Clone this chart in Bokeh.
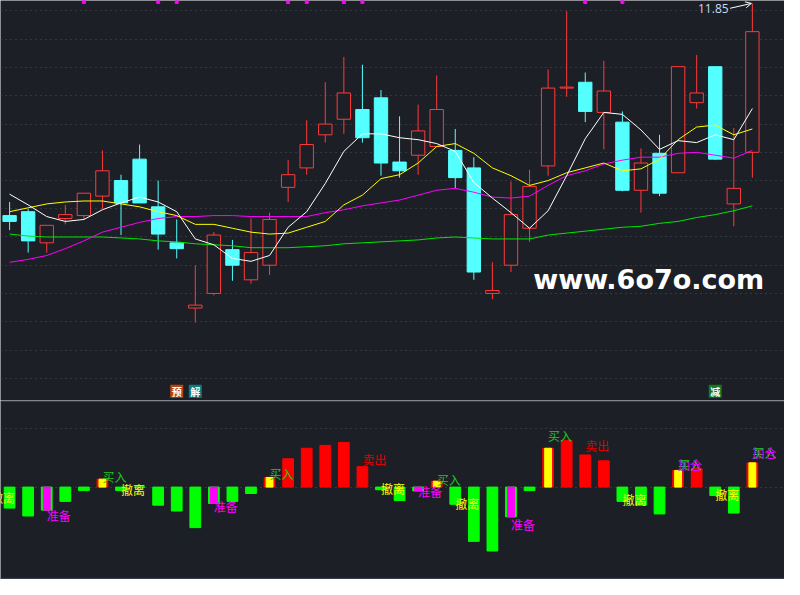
import numpy as np
from bokeh.plotting import figure
from bokeh.layouts import column
from bokeh.models import Range1d, FixedTicker, Span, Label, Arrow, OpenHead, ColumnDataSource
from bokeh.core.properties import value
from bokeh.embed import file_html
from bokeh.resources import INLINE

# daily candles
opens = [9.67, 9.71, 9.39, 9.64, 9.67, 9.87, 10.03, 10.25, 9.76, 9.39,
         8.72, 8.87, 9.32, 9.01, 9.16, 9.96, 10.16, 10.50, 10.66, 10.76,
         10.88, 10.22, 10.29, 10.38, 10.34, 10.16, 8.87, 9.16, 9.54, 10.18,
         10.98, 11.04, 10.73, 10.63, 9.93, 10.31, 10.11, 10.83, 11.20, 9.79, 10.32]
closes = [9.61, 9.41, 9.57, 9.68, 9.90, 10.13, 9.80, 9.80, 9.48, 9.33,
          8.75, 9.47, 9.16, 9.29, 9.63, 10.09, 10.40, 10.61, 10.93, 10.47,
          10.21, 10.13, 10.54, 10.76, 10.06, 9.09, 8.90, 9.68, 9.97, 10.98,
          10.99, 10.74, 10.95, 9.93, 10.21, 9.90, 11.20, 10.93, 10.25, 9.95, 11.56]
highs = [9.81, 9.74, 9.57, 9.78, 9.90, 10.34, 10.09, 10.40, 10.03, 9.63,
         9.16, 9.50, 9.42, 9.64, 9.70, 10.24, 10.65, 11.04, 11.30, 11.22,
         10.96, 10.69, 10.81, 11.11, 10.56, 10.27, 9.19, 10.02, 10.14, 11.17,
         11.77, 11.14, 11.26, 10.74, 10.36, 10.50, 11.20, 11.32, 11.20, 10.57, 11.85]
lows = [9.52, 9.29, 9.29, 9.58, 9.63, 9.74, 9.47, 9.80, 9.32, 9.23,
        8.57, 8.85, 9.00, 8.97, 9.06, 9.81, 10.09, 10.42, 10.51, 10.42,
        10.08, 10.06, 10.09, 10.38, 9.95, 9.01, 8.81, 9.09, 9.40, 10.08,
        10.89, 10.63, 10.35, 9.92, 9.70, 9.87, 10.11, 10.77, 10.24, 9.56, 10.06]

# moving averages
ma5 = [9.89, 9.78, 9.66, 9.61, 9.63, 9.73, 9.80, 9.86, 9.81, 9.71,
       9.43, 9.37, 9.23, 9.20, 9.26, 9.55, 9.71, 10.00, 10.33, 10.51,
       10.51, 10.47, 10.45, 10.41, 10.33, 10.01, 9.85, 9.70, 9.54, 9.72,
       10.08, 10.46, 10.73, 10.71, 10.55, 10.35, 10.44, 10.42, 10.50, 10.45, 10.77]
ma10 = [9.71, 9.75, 9.79, 9.81, 9.82, 9.82, 9.79, 9.76, 9.71, 9.67,
        9.58, 9.58, 9.54, 9.50, 9.48, 9.49, 9.55, 9.61, 9.78, 9.88,
        10.05, 10.09, 10.21, 10.38, 10.41, 10.31, 10.16, 10.08, 9.98, 10.03,
        10.11, 10.16, 10.21, 10.13, 10.15, 10.25, 10.45, 10.58, 10.60, 10.50, 10.56]
ma20 = [9.19, 9.22, 9.26, 9.33, 9.41, 9.50, 9.55, 9.60, 9.64, 9.66,
        9.66, 9.67, 9.67, 9.66, 9.66, 9.66, 9.66, 9.70, 9.73, 9.77,
        9.80, 9.83, 9.88, 9.93, 9.95, 9.91, 9.86, 9.85, 9.87, 9.98,
        10.08, 10.13, 10.20, 10.24, 10.27, 10.27, 10.31, 10.32, 10.29, 10.26, 10.34]
ma60 = [9.48, 9.46, 9.45, 9.45, 9.45, 9.45, 9.44, 9.43, 9.41, 9.40,
        9.38, 9.37, 9.36, 9.34, 9.34, 9.34, 9.35, 9.36, 9.38, 9.39,
        9.40, 9.41, 9.42, 9.44, 9.45, 9.44, 9.43, 9.43, 9.43, 9.47,
        9.49, 9.51, 9.53, 9.55, 9.56, 9.59, 9.61, 9.65, 9.68, 9.72, 9.77]

# indicator histogram
osc = [-7.2, -9.9, -7.9, -4.9, -1.2, 2.7, -1.2, 0.0, -6.2, -8.2,
       -13.9, -5.6, -4.9, -2.2, 3.3, 9.7, 13.3, 14.3, 15.3, 7.0,
       -0.9, -4.6, -1.3, 2.0, -5.9, -18.6, -21.9, -10.2, -1.2, 13.3,
       16.0, 11.0, 9.0, -4.9, -6.2, -9.2, 5.7, 6.3, -2.9, -8.9, 8.3]

# signal labels (candle index, label level)
exit_idx = [-1, 6, 20, 24, 33, 38]
exit_val = [-3.6, -0.8, -0.6, -5.6, -4.4, -2.4]
prep_idx = [2, 11, 22, 27]
prep_val = [-9.8, -6.8, -1.4, -12.8]
buy_idx = [5, 14, 23, 29, 36, 40]
buy_val = [3.7, 4.7, 2.6, 17.6, 7.8, 11.7]
sell_idx = [19, 31]
sell_val = [9.4, 14.4]
add_idx = [36, 40]
add_val = [7.8, 11.7]

mark_idx = [4, 8, 9, 15, 16, 18, 19, 31, 33]
badge_text = ["预", "解", "减"]
badge_idx = [9, 10, 38]
badge_color = ["#b4460f", "#0e7b7b", "#127a1c"]

BG = "#1c1f26"
GRID = "#4b505a"
CJK = value("Noto Sans CJK SC")

n = len(opens)
x = np.arange(n)
o = np.array(opens)
c = np.array(closes)
up = c >= o
src = ColumnDataSource(dict(
    x=x, high=highs, low=lows,
    top=np.maximum(o, c), bottom=np.minimum(o, c),
    line=np.where(up, "#ff3a3a", "#54ffff"),
    fill=np.where(up, BG, "#54ffff"),
))

xr = Range1d(-0.49, 41.73)

p1 = figure(width=784, height=400, x_range=xr, y_range=Range1d(7.77, 11.88),
            output_backend="svg", toolbar_location=None, min_border=0,
            background_fill_color=BG, border_fill_color=BG)
p1.xaxis.visible = False
p1.yaxis.visible = False
p1.xgrid.visible = False
p1.ygrid.ticker = FixedTicker(ticks=[round(11.773 - 0.2904 * i, 3) for i in range(14)])
p1.ygrid.grid_line_color = GRID
p1.ygrid.grid_line_dash = "1 4"
p1.outline_line_color = None

p1.segment("x", "high", "x", "low", color="line", line_width=1, source=src)
p1.vbar(x="x", width=0.72, top="top", bottom="bottom", fill_color="fill",
        line_color="line", line_width=1, source=src)

for ma, col in [(ma60, "#00e600"), (ma20, "#ff00ff"), (ma10, "#ffff00"), (ma5, "#ffffff")]:
    p1.line(x, ma, color=col, line_width=1)

p1.rect(x=mark_idx, y=11.865, width=3, height=3, width_units="screen",
        height_units="screen", color="#ff00ff")

# small boxed signals sitting on the bottom edge of the price panel
p1.rect(x=badge_idx, y=7.865, width=13, height=13, width_units="screen",
        height_units="screen", fill_color=badge_color, line_color=None)
p1.text(x=badge_idx, y=7.865, text=badge_text, text_color="white", text_font=CJK,
        text_font_size="10px", text_font_style="bold", text_align="center",
        text_baseline="middle", text_line_height=1.0)

hi = max(highs)
p1.add_layout(Label(x=38.72, y=11.80, text=f"{hi:.2f}", text_color="#c8dcf0",
                    text_font="Open Sans", text_font_size="12px",
                    text_align="right", text_baseline="middle"))
p1.add_layout(Arrow(end=OpenHead(line_color="white", line_width=1, size=6),
                    x_start=38.8, y_start=11.80, x_end=highs.index(hi) - 0.05, y_end=hi,
                    line_color="white", line_width=1))

p1.add_layout(Label(x=28.2, y=9.01, text="www.6o7o.com", text_color="white",
                    text_font="DejaVu Sans", text_font_size="27px",
                    text_font_style="bold", text_baseline="alphabetic"))

p2 = figure(width=784, height=179, x_range=xr, y_range=Range1d(-31.67, 29.67),
            output_backend="svg", toolbar_location=None, min_border=0,
            background_fill_color=BG, border_fill_color=BG)
p2.xaxis.visible = False
p2.yaxis.visible = False
p2.xgrid.visible = False
p2.ygrid.ticker = FixedTicker(ticks=[20, 0])
p2.ygrid.grid_line_color = GRID
p2.ygrid.grid_line_dash = "1 4"
p2.outline_line_color = None

oa = np.array(osc)
p2.vbar(x=x, width=0.58, top=oa, bottom=0,
        color=np.where(oa > 0, "#ff0000", "#00ff00").tolist())
p2.vbar(x=buy_idx, width=0.37, top=oa[buy_idx], bottom=0, color="#ffff00")
p2.vbar(x=prep_idx, width=0.37, top=oa[prep_idx], bottom=0, color="#ff00ff")

for idx, val, txt, col in [(exit_idx, exit_val, "撤离", "#ffff00"),
                           (prep_idx, prep_val, "准备", "#ff00ff"),
                           (buy_idx, buy_val, "买入", "#1ec81e"),
                           (sell_idx, sell_val, "卖出", "#e00000"),
                           (add_idx, add_val, "加仓", "#e000ff")]:
    p2.text(x=idx, y=val, text=[txt] * len(idx), text_color=col, text_font=CJK,
            text_font_size="12px", text_align="left", text_baseline="middle")

p2.add_layout(Span(location=29.4, dimension="width", line_color="#3d4350", line_width=1))
p2.add_layout(Span(location=-31.3, dimension="width", line_color="#3d4350", line_width=1))

layout = column(p1, p2)
open("out.html", "w").write(file_html(layout, INLINE))
